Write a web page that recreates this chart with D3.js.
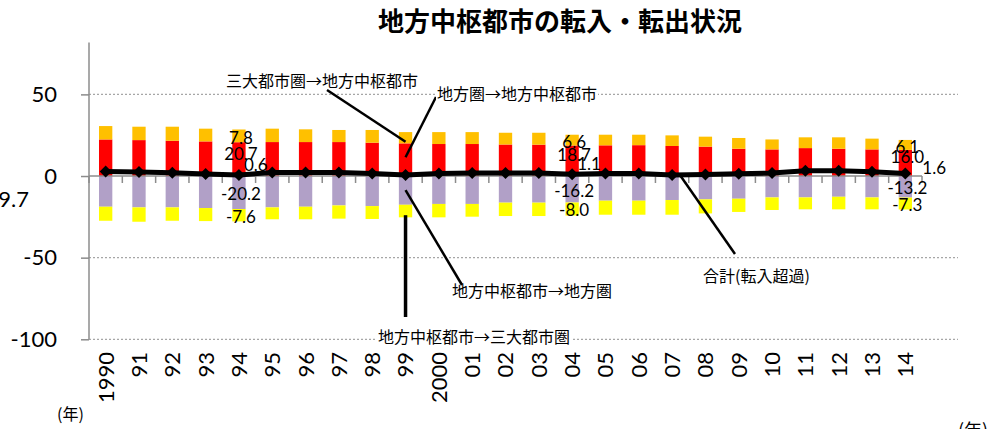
<!DOCTYPE html>
<html>
<head>
<meta charset="utf-8">
<script src="https://cdn.jsdelivr.net/npm/d3@7"></script>
<style>
  body { margin: 0; background: #fff; }
  svg { display: block; }
</style>
</head>
<body>
<svg id="chart" width="1003" height="429"></svg>
<script>
// Fiscal years shown on the category axis
const years = ["1990","91","92","93","94","95","96","97","98","99",
               "2000","01","02","03","04","05","06","07","08","09",
               "10","11","12","13","14"];

// In-migration to regional hub cities (thousand people)
const metroToHub  = [8.2, 8.2, 8.6, 7.8, 7.8, 8.2, 7.8, 7.4, 7.8, 6.9,
                     7.3, 7.3, 7.2, 7.3, 6.6, 6.5, 6.4, 6.5, 6.1, 6.6,
                     6.1, 6.6, 7.0, 6.6, 6.1];
const regionToHub = [22.4, 22.0, 21.6, 21.2, 20.7, 20.8, 20.8, 20.8, 20.4, 20.0,
                     19.6, 19.6, 19.3, 19.2, 18.7, 18.8, 18.9, 18.4, 18.0, 16.7,
                     16.3, 17.1, 16.7, 16.3, 16.0];

// Out-migration from regional hub cities (thousand people)
const hubToRegion = [-18.8, -19.2, -19.2, -19.6, -20.2, -19.2, -18.8, -18.0, -18.4, -17.6,
                     -17.1, -17.1, -16.3, -16.3, -16.2, -15.1, -15.1, -14.7, -14.3, -13.9,
                     -13.1, -13.1, -12.7, -13.1, -13.2];
const hubToMetro  = [-8.6, -8.8, -8.2, -8.0, -7.6, -7.3, -7.7, -8.1, -7.9, -7.7,
                     -8.2, -7.8, -8.2, -8.2, -8.0, -8.6, -8.6, -9.0, -8.6, -8.1,
                     -7.7, -7.3, -7.7, -7.3, -7.3];

// Net in-migration
const netTotal    = [2.8, 2.4, 2.0, 1.2, 0.6, 2.2, 2.1, 2.1, 1.6, 0.6,
                     1.5, 1.9, 1.9, 1.9, 1.1, 1.5, 1.5, 0.6, 1.0, 1.4,
                     1.8, 3.3, 3.3, 2.6, 1.6];

const yTicks = [-100, -50, 0, 50];
const labelledYears = ["94", "04", "14"];

const JP = "'Noto Sans CJK JP', 'Noto Sans', sans-serif";
const NUM = "Lato, 'Open Sans', sans-serif";

// Plain hyphen for negative numbers
const locale = d3.formatLocale({ decimal: ".", thousands: ",", grouping: [3], currency: ["", ""], minus: "-" });
const fmt1 = locale.format(".1f");
const fmtInt = locale.format("d");

const svg = d3.select("#chart");

const x = d3.scaleBand().domain(years).range([89, 922]).paddingInner(0.6).paddingOuter(0.3);
const y = d3.scaleLinear().domain([-100, 80]).range([339.3, 45.4]);
const cx = d => x(d) + x.bandwidth() / 2;

const rows = years.map((yr, i) => ({
  yr,
  segs: [
    { key: "regionToHub", y0: 0, y1: regionToHub[i], v: regionToHub[i], color: "#FF0000" },
    { key: "metroToHub", y0: regionToHub[i], y1: regionToHub[i] + metroToHub[i], v: metroToHub[i], color: "#FFC000" },
    { key: "hubToRegion", y0: 0, y1: hubToRegion[i], v: hubToRegion[i], color: "#B1A0C7" },
    { key: "hubToMetro", y0: hubToRegion[i], y1: hubToRegion[i] + hubToMetro[i], v: hubToMetro[i], color: "#FFFF00" }
  ],
  net: netTotal[i]
}));

// Title
svg.append("text")
  .attr("x", 560).attr("y", 31)
  .attr("text-anchor", "middle")
  .style("font-family", JP).style("font-size", "26px").style("font-weight", "bold")
  .text("地方中枢都市の転入・転出状況");

// Dotted gridlines
svg.append("g").selectAll("line")
  .data(yTicks.filter(t => t !== 0))
  .join("line")
  .attr("x1", 89).attr("x2", 958)
  .attr("y1", d => y(d)).attr("y2", d => y(d))
  .attr("stroke", "#a6a6a6").attr("stroke-width", 1.3)
  .attr("stroke-dasharray", "2,2");

// Stacked bars
svg.append("g").selectAll("g")
  .data(rows)
  .join("g")
  .selectAll("rect")
  .data(d => d.segs.map(s => ({ ...s, yr: d.yr })))
  .join("rect")
  .attr("x", d => x(d.yr))
  .attr("width", x.bandwidth())
  .attr("y", d => y(Math.max(d.y0, d.y1)))
  .attr("height", d => Math.abs(y(d.y0) - y(d.y1)))
  .attr("fill", d => d.color);

// Value axis
const yAxis = svg.append("g")
  .attr("transform", "translate(89,0)")
  .call(d3.axisLeft(y).tickValues(yTicks).tickFormat(fmtInt).tickSize(8).tickSizeOuter(0).tickPadding(24));
yAxis.select(".domain").attr("stroke", "#8c8c8c").attr("stroke-width", 1.5)
  .attr("d", `M0,${y(80) - 3}V${y(-100)}`);
yAxis.selectAll(".tick line").attr("stroke", "#8c8c8c").attr("stroke-width", 1.5);
yAxis.selectAll(".tick text")
  .style("font-family", NUM).style("font-size", "22px").attr("fill", "#000");

// Category axis along zero
const step = x.step();
const x0 = x.range()[0];
const xAxis = svg.append("g");
xAxis.append("line")
  .attr("x1", x0).attr("x2", x.range()[1])
  .attr("y1", y(0)).attr("y2", y(0))
  .attr("stroke", "#8c8c8c").attr("stroke-width", 1.5);
xAxis.selectAll("line.tick")
  .data(d3.range(years.length + 1))
  .join("line").attr("class", "tick")
  .attr("x1", i => x0 + i * step).attr("x2", i => x0 + i * step)
  .attr("y1", y(0)).attr("y2", y(0) + 7)
  .attr("stroke", "#8c8c8c").attr("stroke-width", 1.5);
xAxis.selectAll("text")
  .data(years)
  .join("text")
  .attr("transform", d => `translate(${cx(d)},352) rotate(-90)`)
  .attr("text-anchor", "end")
  .attr("dy", "0.36em")
  .style("font-family", NUM).style("font-size", "22px")
  .text(d => d);

// Net in-migration line with diamond markers
svg.append("path")
  .datum(rows)
  .attr("fill", "none").attr("stroke", "#000").attr("stroke-width", 5)
  .attr("d", d3.line().x(d => cx(d.yr)).y(d => y(d.net)));
svg.append("g").selectAll("path")
  .data(rows)
  .join("path")
  .attr("transform", d => `translate(${cx(d.yr)},${y(d.net)}) rotate(45)`)
  .attr("d", d3.symbol(d3.symbolSquare, 72))
  .attr("fill", "#000");

// Value labels on selected years
const segLabelShift = { metroToHub: 2, regionToHub: -5.5, hubToRegion: 1.5, hubToMetro: 1.5 };
const valueLabels = svg.append("g")
  .style("font-family", NUM).style("font-size", "17px");
rows.filter(r => labelledYears.includes(r.yr)).forEach((r, k, arr) => {
  r.segs.forEach(s => {
    valueLabels.append("text")
      .attr("x", cx(r.yr) + 2)
      .attr("y", (y(s.y0) + y(s.y1)) / 2 + segLabelShift[s.key])
      .attr("dy", "0.35em")
      .attr("text-anchor", "middle")
      .text(fmt1(s.v));
  });
  const last = k === arr.length - 1;
  valueLabels.append("text")
    .attr("x", cx(r.yr) + (last ? 17 : 5))
    .attr("y", y(r.net) + (last ? -5 : -10))
    .attr("dy", "0.35em")
    .text(fmt1(r.net));
});

// Series callouts with leader lines
const callouts = [
  { text: "三大都市圏→地方中枢都市", tx: 226, ty: 81, from: [327, 90], yr: "99", val: 21, w: 2.5, bg: false },
  { text: "地方圏→地方中枢都市", tx: 437, ty: 94, from: [436, 97], yr: "99", val: 11.5, w: 2.5, bg: true },
  { text: "地方中枢都市→地方圏", tx: 452, ty: 291, from: [462, 285], yr: "99", val: -8.6, w: 2.5, bg: false },
  { text: "地方中枢都市→三大都市圏", tx: 378, ty: 337, from: [cx("99"), 317], yr: "99", val: -24, w: 3.5, bg: true },
  { text: "合計(転入超過)", tx: 703, ty: 276, from: [735, 254], yr: "07", val: 0.5, dx: 8, w: 2.5, bg: false }
];
const co = svg.append("g");
callouts.forEach(c => {
  co.append("line")
    .attr("x1", c.from[0]).attr("y1", c.from[1])
    .attr("x2", cx(c.yr) + (c.dx || 0)).attr("y2", y(c.val))
    .attr("stroke", "#000").attr("stroke-width", c.w);
  const t = co.append("text")
    .attr("x", c.tx).attr("y", c.ty).attr("dy", "0.35em")
    .style("font-family", JP).style("font-size", "16px")
    .text(c.text);
  if (c.bg) {
    const b = t.node().getBBox();
    co.insert("rect", () => t.node())
      .attr("x", b.x - 1).attr("y", b.y).attr("width", b.width + 2).attr("height", b.height)
      .attr("fill", "#fff");
  }
});

// Stray labels at the edges
svg.append("text")
  .attr("x", 29).attr("y", 199).attr("dy", "0.35em")
  .attr("text-anchor", "end")
  .style("font-family", NUM).style("font-size", "22px")
  .text("-19.7");
svg.append("text")
  .attr("x", 57).attr("y", 414).attr("dy", "0.35em")
  .style("font-family", JP).style("font-size", "16px")
  .text("(年)");
svg.append("text")
  .attr("x", 958).attr("y", 437)
  .style("font-family", JP).style("font-size", "18px")
  .text("(年)");
</script>
</body>
</html>
